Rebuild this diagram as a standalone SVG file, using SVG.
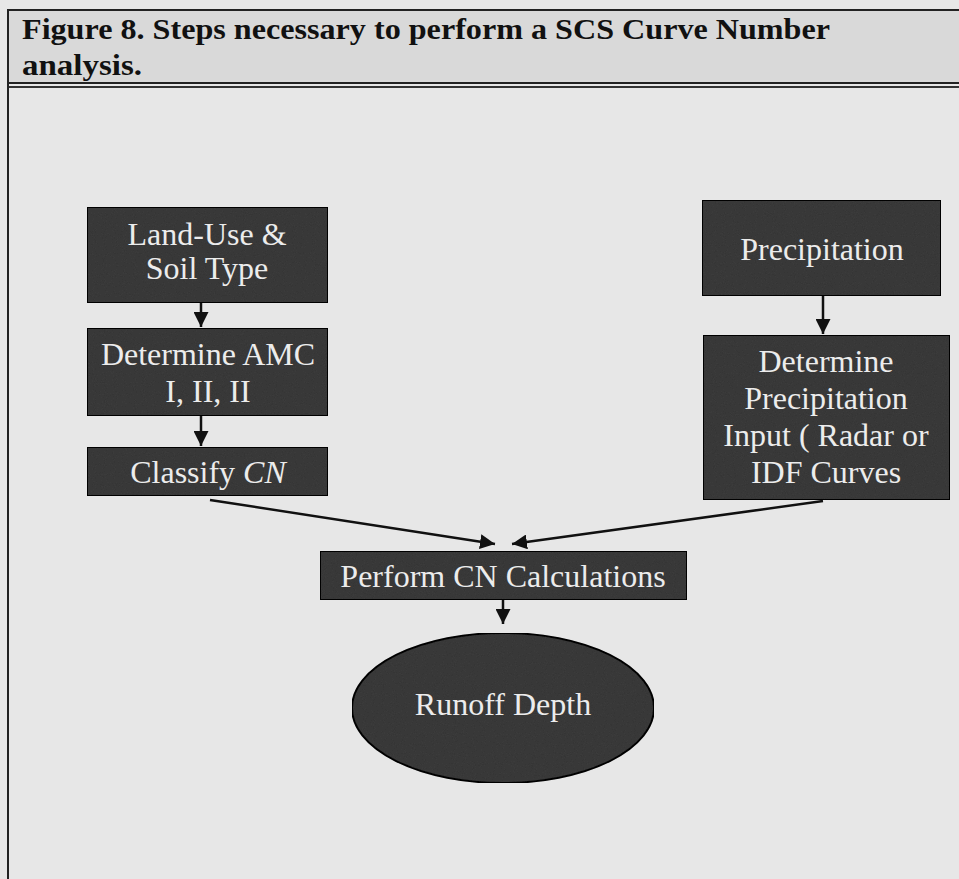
<svg xmlns="http://www.w3.org/2000/svg" width="959" height="879" viewBox="0 0 959 879">
<defs>
<style>
.node{fill:#3e3e3e;stroke:#111;stroke-width:2}
.lbl{font-family:"Liberation Serif","Times New Roman",serif;font-size:32px;fill:#ececec;text-anchor:middle}
.title{font-family:"Liberation Serif","Times New Roman",serif;font-size:30px;font-weight:bold;fill:#111}
.edge{stroke:#111;stroke-width:2.5;fill:none;marker-end:url(#ah)}
</style>
<marker id="ah" viewBox="0 0 10 10" refX="10" refY="5" markerWidth="6" markerHeight="6" markerUnits="strokeWidth" orient="auto">
<path d="M0,0 L10,5 L0,10 z" fill="#111"/>
</marker>
<filter id="grain" x="0" y="0" width="100%" height="100%">
<feTurbulence type="fractalNoise" baseFrequency="0.9" numOctaves="2" seed="3" result="n"/>
<feColorMatrix in="n" type="matrix" values="0 0 0 0 0  0 0 0 0 0  0 0 0 0 0  0 0 0 0.25 0" result="d"/>
<feComposite in="d" in2="SourceGraphic" operator="in" result="m"/>
<feMerge><feMergeNode in="SourceGraphic"/><feMergeNode in="m"/></feMerge>
</filter>
</defs>
<rect x="0" y="0" width="959" height="879" fill="#e7e7e7"/>
<rect x="8" y="10" width="960" height="73" fill="#d9d9d9" stroke="#222" stroke-width="2"/>
<line x1="8" y1="87" x2="959" y2="87" stroke="#333" stroke-width="2"/>
<line x1="8" y1="83" x2="8" y2="879" stroke="#222" stroke-width="2"/>
<text class="title" x="22" y="39" textLength="808" lengthAdjust="spacingAndGlyphs">Figure 8.  Steps necessary to perform a SCS Curve Number</text>
<text class="title" x="22" y="75" textLength="120" lengthAdjust="spacingAndGlyphs">analysis.</text>

<g id="connectors">
<line class="edge" x1="201" y1="303" x2="201" y2="327"/>
<line class="edge" x1="201" y1="416" x2="201" y2="446"/>
<line class="edge" x1="823" y1="296" x2="823" y2="334"/>
<line class="edge" x1="210" y1="500" x2="495" y2="544"/>
<line class="edge" x1="823" y1="501" x2="512" y2="544"/>
<line class="edge" x1="503" y1="600" x2="503" y2="624"/>
</g>

<g id="land-use">
<rect class="node" x="87" y="207" width="241" height="96" filter="url(#grain)"/>
<text class="lbl" x="207" y="245">Land-Use &amp;</text>
<text class="lbl" x="207" y="279">Soil Type</text>
</g>
<g id="amc">
<rect class="node" x="87" y="328" width="241" height="88" filter="url(#grain)"/>
<text class="lbl" x="208" y="365">Determine AMC</text>
<text class="lbl" x="208" y="402">I, II, II</text>
</g>
<g id="classify">
<rect class="node" x="87" y="447" width="241" height="49" filter="url(#grain)"/>
<text class="lbl" x="208" y="483">Classify <tspan font-style="italic">CN</tspan></text>
</g>
<g id="precipitation">
<rect class="node" x="702" y="200" width="239" height="96" filter="url(#grain)"/>
<text class="lbl" x="822" y="260">Precipitation</text>
</g>
<g id="precip-input">
<rect class="node" x="703" y="335" width="247" height="165" filter="url(#grain)"/>
<text class="lbl" x="826" y="372">Determine</text>
<text class="lbl" x="826" y="409">Precipitation</text>
<text class="lbl" x="826" y="446">Input ( Radar or</text>
<text class="lbl" x="826" y="483">IDF Curves</text>
</g>
<g id="perform">
<rect class="node" x="320" y="551" width="367" height="49" filter="url(#grain)"/>
<text class="lbl" x="503" y="587">Perform CN Calculations</text>
</g>
<g id="runoff">
<ellipse class="node" cx="503" cy="708" rx="151" ry="75" filter="url(#grain)"/>
<text class="lbl" x="503" y="715">Runoff Depth</text>
</g>
</svg>
